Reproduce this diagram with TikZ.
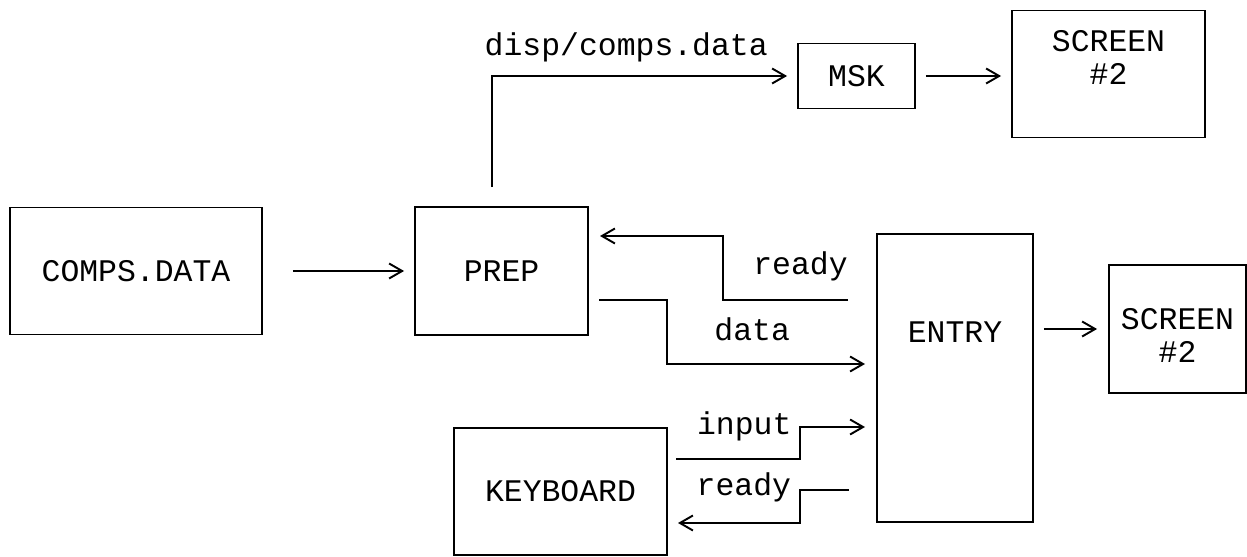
\documentclass[tikz,border=0pt]{standalone}
\usepackage{fontspec}
\newfontfamily\courierfont{Liberation Mono}
\usetikzlibrary{arrows.meta}
\tikzset{
	box/.style={draw, line width=1.1pt, inner sep=0pt, align=center},
	flow/.style={-{Straight Barb[length=0.26cm, width=0.3cm]}, line width=1.1pt},
	lbl/.style={anchor=south, inner sep=0pt},
}
\begin{document}
\begin{tikzpicture}[x=0.02cm, y=-0.02cm, font=\courierfont\fontsize{17.9}{18.8}\selectfont]
		\useasboundingbox (0, 0) rectangle (1247, 557);

		\node [box, minimum width=5.04cm, minimum height=2.54cm]	(comps) at (136, 271) {COMPS.DATA};
		\node [box, minimum width=3.46cm, minimum height=2.56cm]	(prep) at (501.5, 271) {PREP};
		\node [box, minimum width=2.34cm, minimum height=1.3cm]	(msk) at (856.5, 76) {MSK};
		\node [box, minimum width=3.86cm, minimum height=2.54cm]	(scrA) at (1108.5, 74) {SCREEN\\\#2\\\mbox{}};
		\node [box, minimum width=3.12cm, minimum height=5.76cm, text depth=1.84cm]	(entry) at (955, 378) {ENTRY};
		\node [box, minimum width=2.74cm, minimum height=2.56cm]	(scrB) at (1177.5, 329) {\mbox{}\\SCREEN\\\#2};
		\node [box, minimum width=4.26cm, minimum height=2.54cm]	(kbd) at (560.5, 491.5) {KEYBOARD};

		\coordinate (rdyA) at (848, 300);
		\coordinate (rdyB) at (600, 236);
		\coordinate (datA) at (599, 300);
		\coordinate (datB) at (865, 364);
		\coordinate (inpA) at (676, 459);
		\coordinate (inpB) at (865, 427);
		\coordinate (rdyC) at (849, 490);
		\coordinate (rdyD) at (678, 523);

		\draw [flow, shorten <=0.6cm, shorten >=0.2cm]	(comps) to (prep);
		\draw [flow, shorten <=0.38cm, shorten >=0.2cm]	([xshift=-0.19cm]prep.north) |- node [lbl, pos=0.72, yshift=0.26cm] {disp/comps.data} (msk.west);
		\draw [flow, shorten <=0.2cm, shorten >=0.2cm]	(msk.east) to (msk.east -| scrA.west);
		\draw [flow, shorten <=0.2cm, shorten >=0.22cm]	(entry.east |- scrB) to (scrB.west);

		\draw [flow]	(rdyA) -- node [lbl, pos=0.38, yshift=0.36cm] {ready} (723, 300) |- (rdyB);
		\draw [flow]	(datA) -- (667, 300) |- node [lbl, pos=0.715, yshift=0.44cm] {data} (datB);
		\draw [flow]	(inpA) -- node [lbl, pos=0.55, yshift=0.34cm] {input} (800, 459) |- (inpB);
		\draw [flow]	(rdyC) -- (800, 490) |- node [lbl, pos=0.73, yshift=0.4cm] {ready} (rdyD);
	\end{tikzpicture}
\end{document}
